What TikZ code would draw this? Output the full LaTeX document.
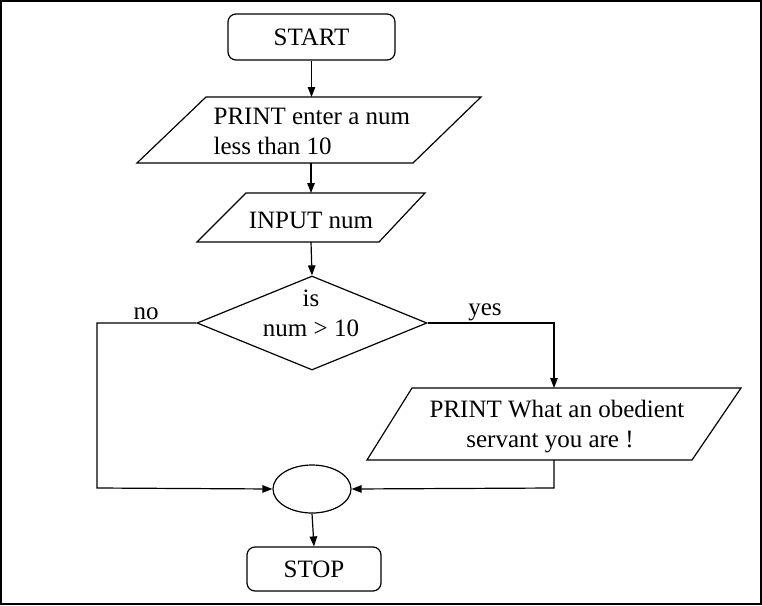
\documentclass[tikz,border=0pt]{standalone}
\usepackage{fontspec}
\setmainfont{Liberation Serif}
\usetikzlibrary{shapes.geometric,arrows.meta}
\begin{document}
\begin{tikzpicture}[x=1pt,y=-1pt,line width=1.2pt,
  font=\fontsize{25}{30}\selectfont,
  arr/.style={-{Triangle[length=10pt,width=7.5pt]}},
  term/.style={draw,rounded corners=8pt,inner sep=0pt},
  txt/.style={inner sep=0pt,align=center}]
\useasboundingbox (0,0) rectangle (762,605);
\draw[line width=2pt] (1,1) rectangle (761,604);
% START
\node[term,minimum width=167pt,minimum height=46pt] (start) at (311.5,37) {START};
% parallelogram 1
\coordinate (p1top) at (311,97);
\coordinate (p1bot) at (311,163);
\draw (206,97) -- (481,97) -- (413,163) -- (137,163) -- cycle;
\node[txt,align=left,anchor=west] (p1) at (213,131) {PRINT enter a num\\less than 10};
% parallelogram 2
\coordinate (p2top) at (311,193);
\coordinate (p2bot) at (311,242);
\draw (246,193) -- (425,193) -- (379,242) -- (197,242) -- cycle;
\node[txt] (p2) at (311,220) {INPUT num};
% decision
\node[draw,diamond,minimum width=230pt,minimum height=94pt,inner sep=0pt] (dia) at (312,323) {};
\node[txt] (diat) at (311,313) {is\\num > 10};
% parallelogram 3
\coordinate (p3top) at (554,388);
\coordinate (p3bot) at (554,460);
\draw (412,388) -- (741,388) -- (692,460) -- (367,460) -- cycle;
\node[txt] (p3) at (557,427) {PRINT What an obedient\\\hspace*{-14pt}servant you are !};
% connector ellipse
\node[draw,ellipse,minimum width=78pt,minimum height=48pt,inner sep=0pt] (join) at (312,489) {};
% STOP
\node[term,minimum width=134pt,minimum height=44pt] (stop) at (314,569) {STOP};
% corner coordinates
\coordinate (yesc) at (554,323);
\coordinate (noc1) at (97,323);
\coordinate (noc2) at (97,488);
\coordinate (retc) at (554,488);
% connectors
\draw[arr] (start.south) -- (start.south |- p1top);
\draw[arr] (p1bot) -- (p2top);
\draw[arr] (p2bot) -- (dia.north);
\draw[arr] (dia.east) -- (yesc) -- (p3top);
\draw[arr] (dia.west) -- (noc1) -- (noc2) -- (join.west);
\draw[arr] (p3bot) -- (retc) -- (join.east);
\draw[arr] (join.south) -- (stop.north);
% labels
\node[txt] (yes) at (485,312) {yes};
\node[txt] (no) at (146,314) {no};
\end{tikzpicture}
\end{document}
